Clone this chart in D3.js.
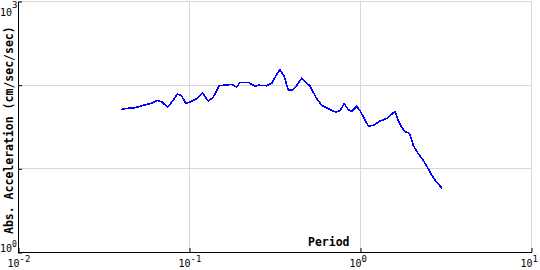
<!DOCTYPE html>
<html>
<head>
<meta charset="utf-8">
<script src="https://cdn.jsdelivr.net/npm/d3@7"></script>
<style>
body { margin: 0; background: #fff; }
svg { display: block; }
</style>
</head>
<body>
<script>
// spectrum
var periods = [0.0397, 0.043, 0.048, 0.0525, 0.0588, 0.0649, 0.0687, 0.0746, 0.0787, 0.0849,
  0.0899, 0.0951, 0.1007, 0.110, 0.1194, 0.1288, 0.1377, 0.149, 0.1612, 0.1767,
  0.1888, 0.1972, 0.221, 0.2415, 0.2524, 0.2828, 0.303, 0.319, 0.338, 0.358,
  0.378, 0.401, 0.424, 0.453, 0.473, 0.507, 0.550, 0.593, 0.634, 0.679,
  0.719, 0.759, 0.804, 0.849, 0.888, 0.951, 0.993, 1.111, 1.188, 1.300,
  1.423, 1.591, 1.664, 1.742, 1.821, 1.930, 1.993, 2.037, 2.179, 2.329,
  2.492, 2.609, 2.790, 3.006];
var accel = [51.3, 52.7, 53.7, 56.8, 60.0, 65.6, 63.3, 54.6, 62.6, 78.1,
  74.7, 60.9, 62.6, 68.8, 80.2, 64.4, 71.9, 98.4, 100, 102,
  94.6, 107.8, 107.8, 97.3, 100, 98.4, 105.7, 128, 154, 127,
  88.1, 88.1, 99.2, 121, 111, 97.8, 70.7, 57.2, 53.7, 49.8,
  47.6, 49.8, 60, 50.8, 48.5, 56.1, 49.8, 32.4, 33.0, 37.2,
  40.0, 48.5, 37.9, 31.2, 28.0, 26.5, 22.3, 19.0, 15.1, 12.6,
  10.0, 8.34, 6.93, 5.83];

var xDecades = [-2, -1, 0, 1];
var yDecades = [0, 1, 2, 3];
var xTitle = "Period";
var yTitle = "Abs. Acceleration (cm/sec/sec)";

var w = 540, h = 270;

var x = d3.scaleLog().domain([0.01, 10]).range([18.5, 531.5]);
var y = d3.scaleLog().domain([1, 1000]).range([252.5, 1.5]);

var svg = d3.select("body").append("svg")
  .attr("width", w)
  .attr("height", h);

// grid
svg.selectAll(".vgrid")
  .data(xDecades.slice(1))
  .enter()
  .append("line")
  .attr("x1", function(d) { return Math.round(x(Math.pow(10, d)) - 0.5) + 0.5; })
  .attr("x2", function(d) { return Math.round(x(Math.pow(10, d)) - 0.5) + 0.5; })
  .attr("y1", y(1000))
  .attr("y2", y(1))
  .attr("stroke", "#d8d8d8");

svg.selectAll(".hgrid")
  .data(yDecades.slice(1))
  .enter()
  .append("line")
  .attr("y1", function(d) { return Math.round(y(Math.pow(10, d)) - 0.5) + 0.5; })
  .attr("y2", function(d) { return Math.round(y(Math.pow(10, d)) - 0.5) + 0.5; })
  .attr("x1", x(0.01))
  .attr("x2", x(10))
  .attr("stroke", "#d8d8d8");

// axes, ticks pointing inward
var xAxis = d3.axisBottom(x)
  .tickValues(xDecades.map(function(d) { return Math.pow(10, d); }))
  .tickSizeInner(-4)
  .tickSizeOuter(0)
  .tickFormat("");
var yAxis = d3.axisLeft(y)
  .tickValues(yDecades.map(function(d) { return Math.pow(10, d); }))
  .tickSizeInner(-4)
  .tickSizeOuter(0)
  .tickFormat("");

svg.append("g")
  .attr("transform", "translate(0," + (y(1) - 0.5) + ")")
  .call(xAxis)
  .call(function(g) { g.selectAll("path, line").attr("stroke", "#000"); });

svg.append("g")
  .attr("transform", "translate(" + (x(0.01) - 0.5) + ",0)")
  .call(yAxis)
  .call(function(g) { g.selectAll("path, line").attr("stroke", "#000"); });

// x tick labels: "10" ends at the tick, exponent after it
var xl = svg.selectAll(".xlab")
  .data(xDecades)
  .enter()
  .append("text")
  .attr("x", function(d) { return x(Math.pow(10, d)) - 11; })
  .attr("y", 267)
  .attr("font-family", "DejaVu Sans Mono")
  .attr("font-size", "10px")
  .attr("fill", "#000");
xl.append("tspan").text("10");
xl.append("tspan")
  .attr("dy", -5)
  .attr("font-size", "9px")
  .text(function(d) { return d < 0 ? "-" + (-d) : d; });

// y tick labels only at the ends
var ytop = svg.append("text")
  .attr("x", 0)
  .attr("y", 16)
  .attr("font-family", "DejaVu Sans Mono")
  .attr("font-size", "10px");
ytop.append("tspan").text("10");
ytop.append("tspan").attr("dy", -8).attr("font-size", "9px").text(yDecades[3]);

var ybot = svg.append("text")
  .attr("x", 0)
  .attr("y", 252)
  .attr("font-family", "DejaVu Sans Mono")
  .attr("font-size", "10px");
ybot.append("tspan").text("10");
ybot.append("tspan").attr("dy", -5).attr("font-size", "8px").text(yDecades[0]);

// titles
svg.append("text")
  .attr("x", 308)
  .attr("y", 246)
  .attr("font-family", "DejaVu Sans Mono")
  .attr("font-weight", "bold")
  .attr("font-size", "11.5px")
  .text(xTitle);

svg.append("text")
  .attr("transform", "translate(13,234) rotate(-90)")
  .attr("font-family", "DejaVu Sans Mono")
  .attr("font-weight", "bold")
  .attr("font-size", "11.5px")
  .text(yTitle);

// the curve
var line = d3.line()
  .x(function(d, i) { return x(periods[i]); })
  .y(function(d) { return y(d); });

svg.append("path")
  .datum(accel)
  .attr("d", line)
  .attr("fill", "none")
  .attr("stroke", "#0000ff")
  .attr("stroke-width", 1.6)
  .attr("shape-rendering", "crispEdges");
</script>
</body>
</html>
